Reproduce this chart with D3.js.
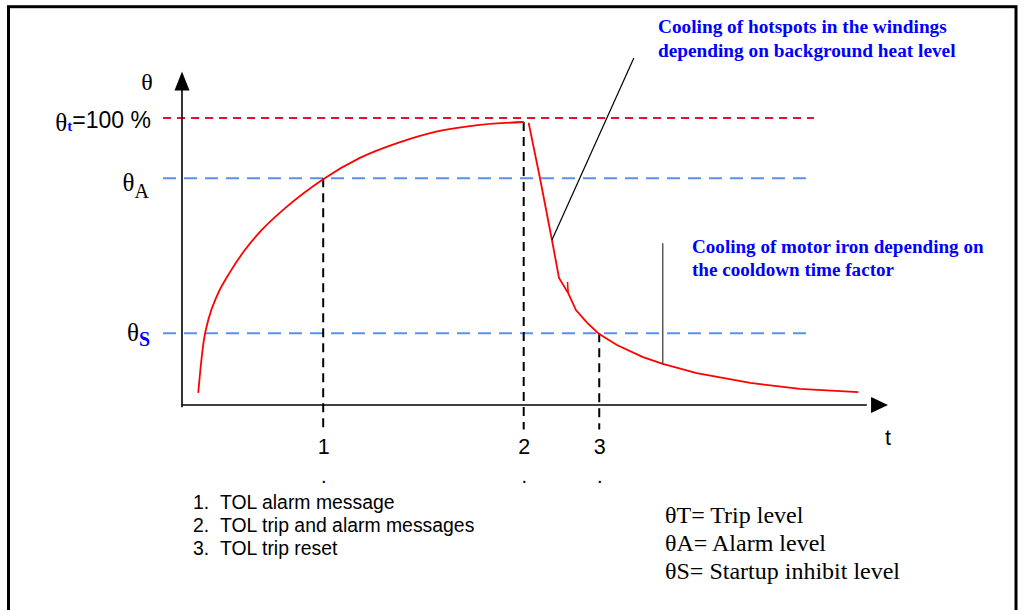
<!DOCTYPE html>
<html><head><meta charset="utf-8">
<script src="https://cdn.jsdelivr.net/npm/d3@7"></script>
<style>
html,body{margin:0;padding:0;background:#fff;}
svg{display:block;}
</style></head>
<body><svg id="c" width="1023" height="610"></svg>
<script>
// ---------------- data ----------------
const levelValues = [100, 79, 25];            // θt, θA, θS (% of trip level)
const levelNames  = ["θt", "θA", "θS"];
const eventTimes  = [20, 48.4, 59.1];
const eventLabels = ["1", "2", "3"];
const eventLevels = [79, 98.6, 25];
const heatingT     = [2.3, 2.6, 3.1, 3.8, 5.0, 6.8, 8.9, 11.3, 14.6, 20.0, 25.2, 30.9, 36.5, 42.2, 48.4];
const heatingTheta = [4.2, 12.2, 22.6, 30.3, 38.3, 46.3, 54.0, 61.0, 68.6, 78.7, 86.1, 91.6, 95.5, 97.6, 98.6];
const coolingT     = [49.1, 50.7, 52.4, 53.4, 54.7, 55.8, 57.4, 59.1, 61.6, 65.3, 68.1, 72.9, 80.5, 87.5, 95.8];
const coolingTheta = [98.3, 79.1, 57.5, 44.3, 39.0, 33.1, 28.6, 24.7, 20.9, 16.7, 14.3, 11.1, 7.7, 5.6, 4.5];
const hookT     = [54.6, 54.7];
const hookTheta = [42.9, 39.0];
const noteA = ["Cooling of hotspots in the windings", "depending on background heat level"];
const noteB = ["Cooling of motor iron depending on", "the cooldown time factor"];
const leaderAT = [52.4, 64.0], leaderATheta = [57.5, 120.9];
const leaderBT = [68.1, 68.1], leaderBTheta = [14.3, 56.4];
const eventNotes = ["TOL alarm message", "TOL trip and alarm messages", "TOL trip reset"];
const legendLines = ["θT= Trip level", "θA= Alarm level", "θS= Startup inhibit level"];

// ---------------- scales ----------------
const svg = d3.select("#c");
const x = d3.scaleLinear().domain([0, 100]).range([182, 888]);
const y = d3.scaleLinear().domain([0, 100]).range([405, 118]);
const SERIF = "'Liberation Serif','Times New Roman',serif";
const SANS = "'Liberation Sans',Arial,sans-serif";

// frame
svg.append("rect").attr("x", 8.5).attr("y", 6.7).attr("width", 1007.5).attr("height", 700)
  .attr("fill", "none").attr("stroke", "#000").attr("stroke-width", 3);

// level dashed lines
const levelColors = ["#e8102c", "#5b8ff0", "#5b8ff0"];
const levelDash = ["8,6", "13,8", "13,8"];
levelValues.forEach((v, i) => {
  svg.append("line").attr("x1", 163).attr("x2", x(89.5)).attr("y1", y(v)).attr("y2", y(v))
    .attr("stroke", levelColors[i]).attr("stroke-width", 2).attr("stroke-dasharray", levelDash[i]);
});

// event vertical dashed lines
eventTimes.forEach((t, i) => {
  svg.append("line").attr("x1", x(t)).attr("x2", x(t)).attr("y1", y(eventLevels[i])).attr("y2", y(-8.5))
    .attr("stroke", "#000").attr("stroke-width", 2).attr("stroke-dasharray", "9,6");
});

// axes (bottom: event labels)
const xAxis = d3.axisBottom(x).tickValues(eventTimes).tickFormat((d, i) => eventLabels[i]).tickSize(0).tickPadding(34);
const gx = svg.append("g").attr("transform", `translate(0,${y(0)})`).call(xAxis);
gx.select(".domain").remove();
gx.selectAll(".tick text").attr("font-family", SANS).attr("font-size", 21.5).attr("fill", "#000");
gx.selectAll(".tick").append("text").text(".").attr("y", 78).attr("text-anchor", "middle")
  .attr("font-family", SANS).attr("font-size", 20).attr("fill", "#000");

// axis lines with arrows
svg.append("line").attr("x1", x(0)).attr("x2", x(0)).attr("y1", y(-0.8)).attr("y2", y(112))
  .attr("stroke", "#000").attr("stroke-width", 1.6);
svg.append("path").attr("d", `M${x(0)},${y(116.2)} L${x(0)-7.5},${y(109.6)} L${x(0)+7.5},${y(109.6)} Z`).attr("fill", "#000");
svg.append("line").attr("x1", x(0)).attr("x2", x(97)).attr("y1", y(0)).attr("y2", y(0))
  .attr("stroke", "#000").attr("stroke-width", 1.6);
svg.append("path").attr("d", `M${x(100)},${y(0)} L${x(97.6)},${y(0)-8} L${x(97.6)},${y(0)+8} Z`).attr("fill", "#000");

// axis titles
svg.append("text").attr("x", 147).attr("y", 90).attr("text-anchor", "middle")
  .attr("font-family", SERIF).attr("font-size", 24).text("θ");
svg.append("text").attr("x", x(100)).attr("y", 445).attr("text-anchor", "middle")
  .attr("font-family", SANS).attr("font-size", 21.5).text("t");

// level labels (left)
// θt=100 %
let t0 = svg.append("text").attr("x", 151).attr("y", y(levelValues[0]) + 10).attr("text-anchor", "end");
t0.append("tspan").attr("font-family", SERIF).attr("font-size", 25).attr("dy", 3).text("θ");
t0.append("tspan").attr("font-family", SERIF).attr("font-weight", "bold").attr("font-size", 15).attr("fill", "#0000ff").attr("dy", 0).text("t");
t0.append("tspan").attr("font-family", SANS).attr("font-size", 23).attr("dy", -3).text("=100 %");
// θA
let t1 = svg.append("text").attr("x", 149).attr("y", y(levelValues[1]) + 13).attr("text-anchor", "end");
t1.append("tspan").attr("font-family", SERIF).attr("font-size", 25).text("θ");
t1.append("tspan").attr("font-family", SERIF).attr("font-size", 20).attr("dy", 7).text("A");
// θS
let t2 = svg.append("text").attr("x", 150).attr("y", y(levelValues[2]) + 8).attr("text-anchor", "end");
t2.append("tspan").attr("font-family", SERIF).attr("font-size", 25).text("θ");
t2.append("tspan").attr("font-family", SERIF).attr("font-weight", "bold").attr("font-size", 20).attr("fill", "#0000ff").attr("dy", 5).text("S");

// curves
const line = d3.line().x(d => x(d[0])).y(d => y(d[1]));
const heat = heatingT.map((t, i) => [t, heatingTheta[i]]);
const cool = coolingT.map((t, i) => [t, coolingTheta[i]]);
const hook = hookT.map((t, i) => [t, hookTheta[i]]);
svg.append("path").attr("d", line.curve(d3.curveMonotoneX)(heat)).attr("fill", "none").attr("stroke", "#ff0000").attr("stroke-width", 1.8);
svg.append("path").attr("d", d3.line().x(d => x(d[0])).y(d => y(d[1])).curve(d3.curveLinear)(cool)).attr("fill", "none").attr("stroke", "#ff0000").attr("stroke-width", 1.8);
svg.append("path").attr("d", d3.line().x(d => x(d[0])).y(d => y(d[1]))(hook)).attr("fill", "none").attr("stroke", "#ff0000").attr("stroke-width", 1.5);

// leader lines
svg.append("line").attr("x1", x(leaderAT[0])).attr("y1", y(leaderATheta[0])).attr("x2", x(leaderAT[1])).attr("y2", y(leaderATheta[1]))
  .attr("stroke", "#000").attr("stroke-width", 1.2);
svg.append("line").attr("x1", x(leaderBT[0])).attr("y1", y(leaderBTheta[0])).attr("x2", x(leaderBT[1])).attr("y2", y(leaderBTheta[1]))
  .attr("stroke", "#333").attr("stroke-width", 1.2);

// annotations
noteA.forEach((s, i) => svg.append("text").attr("x", 658).attr("y", 33 + i * 24)
  .attr("font-family", SERIF).attr("font-weight", "bold").attr("font-size", 19.3).attr("fill", "#0000ff").text(s));
noteB.forEach((s, i) => svg.append("text").attr("x", 692).attr("y", 253 + i * 23)
  .attr("font-family", SERIF).attr("font-weight", "bold").attr("font-size", 19.1).attr("fill", "#0000ff").text(s));

// event notes list
eventNotes.forEach((s, i) => {
  svg.append("text").attr("x", 193).attr("y", 509 + i * 23).attr("font-family", SANS).attr("font-size", 19.4).text((i + 1) + ".");
  svg.append("text").attr("x", 220).attr("y", 509 + i * 23).attr("font-family", SANS).attr("font-size", 19.4).text(s);
});

// legend
legendLines.forEach((s, i) => svg.append("text").attr("x", 665).attr("y", 523 + i * 28)
  .attr("font-family", SERIF).attr("font-size", 24).text(s));
</script></body></html>
